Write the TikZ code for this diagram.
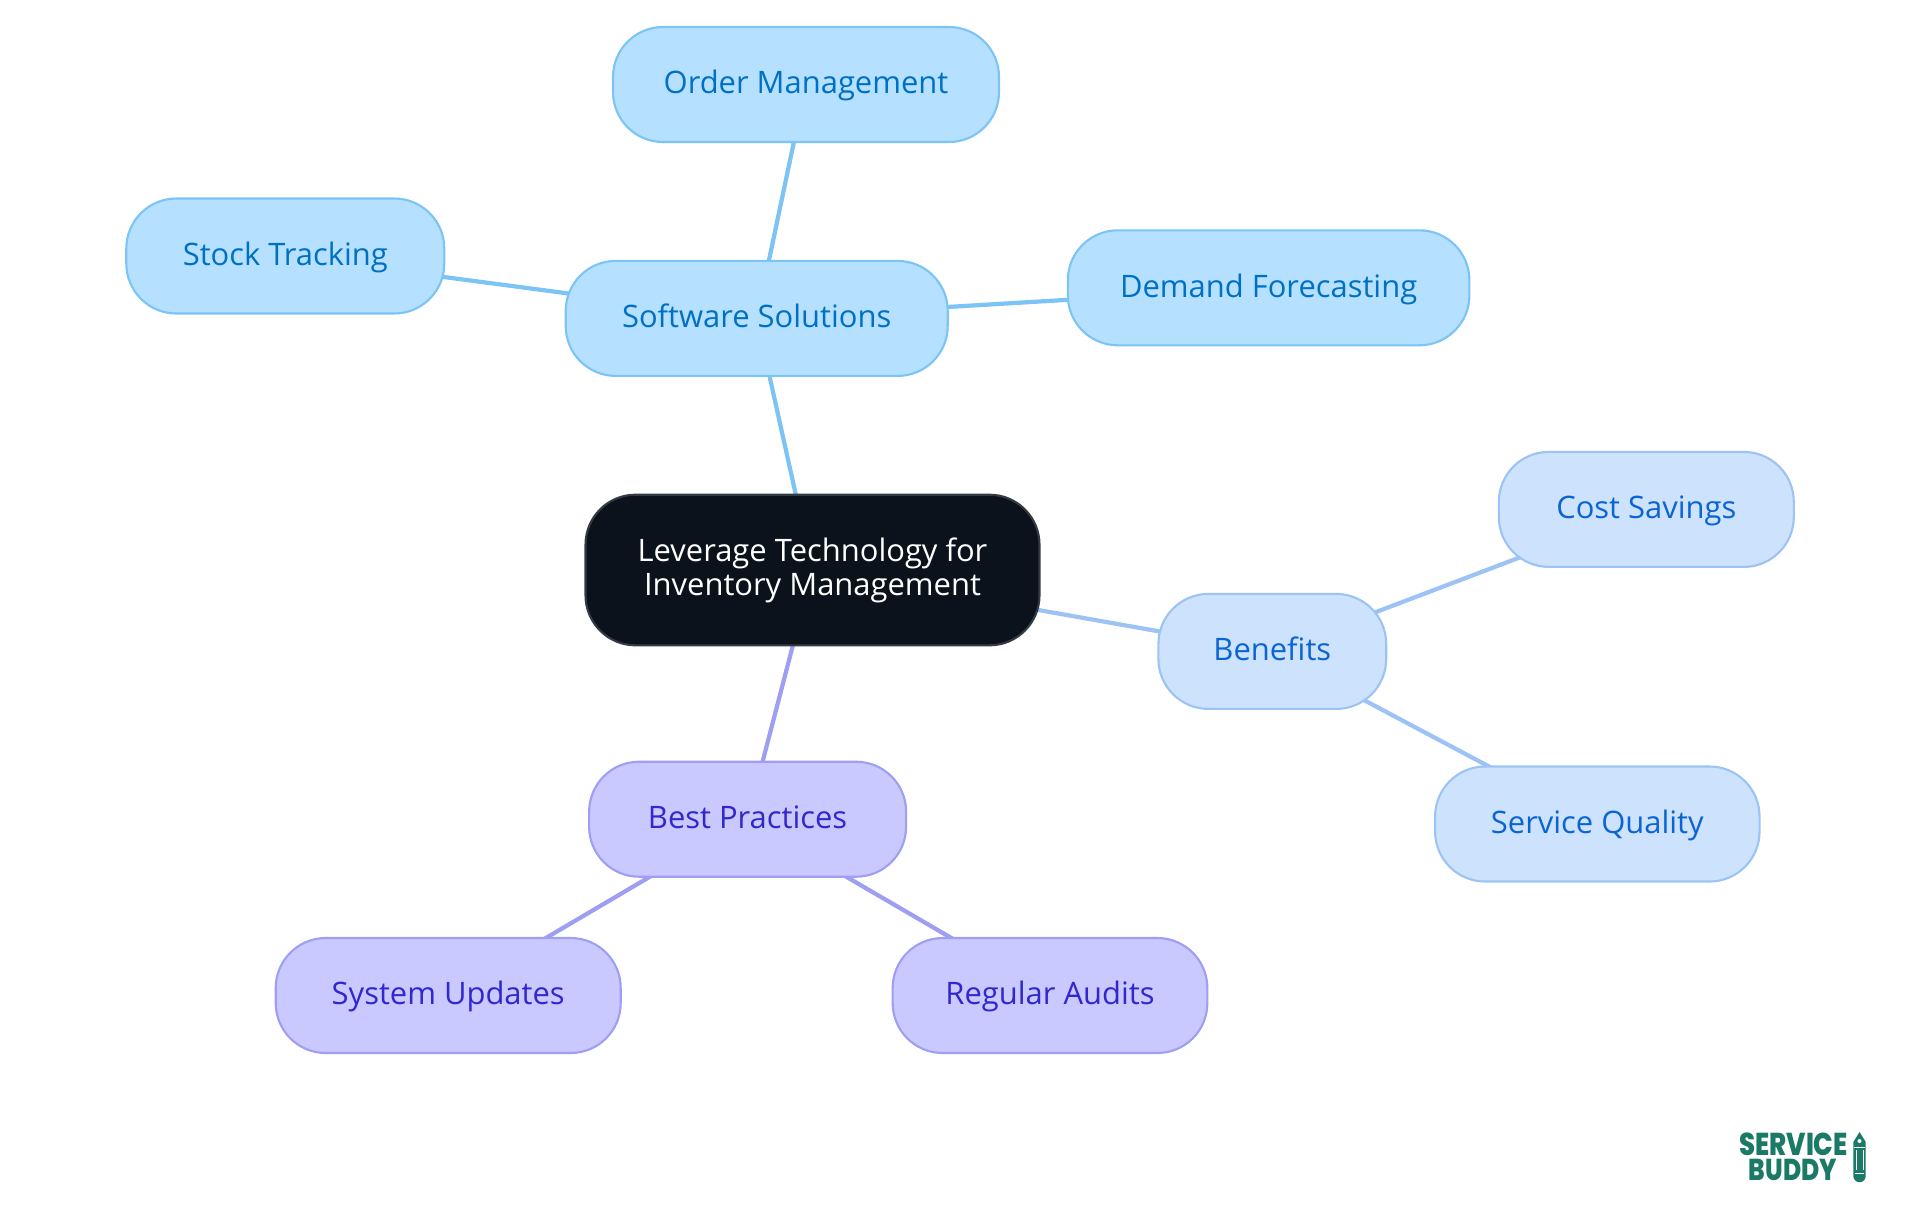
\documentclass[tikz,border=0pt]{standalone}
\usepackage{fontspec}
\setmainfont{Open Sans}
\newfontfamily\logofont{Poppins ExtraBold}[FakeStretch=0.82]
\usetikzlibrary{backgrounds}
\definecolor{softfill}{HTML}{B5E0FF}
\definecolor{softline}{HTML}{7CC4F5}
\definecolor{softtext}{HTML}{0070C4}
\definecolor{benefill}{HTML}{CCE2FD}
\definecolor{beneline}{HTML}{9CC3F3}
\definecolor{benetext}{HTML}{0B64D4}
\definecolor{bestfill}{HTML}{C9C9FF}
\definecolor{bestline}{HTML}{9E9EF3}
\definecolor{besttext}{HTML}{3027CF}
\definecolor{rootfill}{HTML}{0B121B}
\definecolor{rootline}{HTML}{343A41}
\definecolor{logogreen}{HTML}{1B7A66}
\tikzset{
  box/.style={rectangle,rounded corners=5mm,line width=0.6pt,minimum height=1.15cm,inner sep=0pt,font=\fontsize{8.8}{9.7}\selectfont,align=center},
  leafbox/.style={box,text height=5.3pt,text depth=0pt},
  softbox/.style={leafbox,draw=softline,fill=softfill,text=softtext},
  benebox/.style={leafbox,draw=beneline,fill=benefill,text=benetext},
  bestbox/.style={leafbox,draw=bestline,fill=bestfill,text=besttext},
  rootbox/.style={box,draw=rootline,fill=rootfill,text=white,minimum height=1.506cm},
  softlink/.style={draw=softline,line width=1.2pt},
  benelink/.style={draw=beneline,line width=1.2pt},
  bestlink/.style={draw=bestline,line width=1.2pt},
  logotext/.style={inner sep=0pt,text=logogreen},
}
\begin{document}
\begin{tikzpicture}[x=1cm,y=-1cm,line join=round]
	\useasboundingbox (0,0) rectangle (19.2,12.15);
	\node[rootbox,minimum width=4.54cm] (root) at (8.125,5.70) {Leverage Technology for\\Inventory Management};
	\node[softbox,minimum width=3.82cm] (software) at (7.567,3.184) {Software Solutions};
	\node[softbox,minimum width=3.86cm] (order) at (8.06,0.845) {Order Management};
	\node[softbox,minimum width=3.18cm] (stock) at (2.853,2.56) {Stock Tracking};
	\node[softbox,minimum width=4.016cm] (demand) at (12.686,2.878) {Demand Forecasting};
	\node[benebox,minimum width=2.278cm] (benefits) at (12.723,6.514) {Benefits};
	\node[benebox,minimum width=2.95cm] (cost) at (16.463,5.094) {Cost Savings};
	\node[benebox,minimum width=3.245cm] (service) at (15.973,8.24) {Service Quality};
	\node[bestbox,minimum width=3.17cm] (best) at (7.476,8.192) {Best Practices};
	\node[bestbox,minimum width=3.45cm] (system) at (4.482,9.955) {System Updates};
	\node[bestbox,minimum width=3.147cm] (audits) at (10.50,9.955) {Regular Audits};
	\begin{scope}[on background layer]
		\foreach \a/\b in {root/software,software/order,software/stock,software/demand}
		\draw[softlink] (\a.center)--(\b.center);
		\foreach \a/\b in {root/benefits,benefits/cost,benefits/service}
		\draw[benelink] (\a.center)--(\b.center);
		\foreach \a/\b in {root/best,best/system,best/audits}
		\draw[bestlink] (\a.center)--(\b.center);
	\end{scope}
	% logo
	\node[logotext,font=\logofont\fontsize{9}{9}\selectfont] (logoa) at (17.935,11.44) {SERVICE};
	\node[logotext,font=\logofont\fontsize{8.6}{8.6}\selectfont] (logob) at (17.93,11.70) {BUDDY};
	\fill[logogreen] (18.595,11.32)--(18.657,11.42)--(18.657,11.76) arc[start angle=0,end angle=180,radius=0.062]--(18.533,11.42)--cycle;
	\draw[white,line width=0.25pt] (18.56,11.50)--(18.56,11.70) (18.63,11.50)--(18.63,11.70) (18.55,11.73)--(18.64,11.73) (18.54,11.47)--(18.65,11.47);
	\fill[white] (18.595,11.41) circle (0.02);
\end{tikzpicture}
\end{document}
